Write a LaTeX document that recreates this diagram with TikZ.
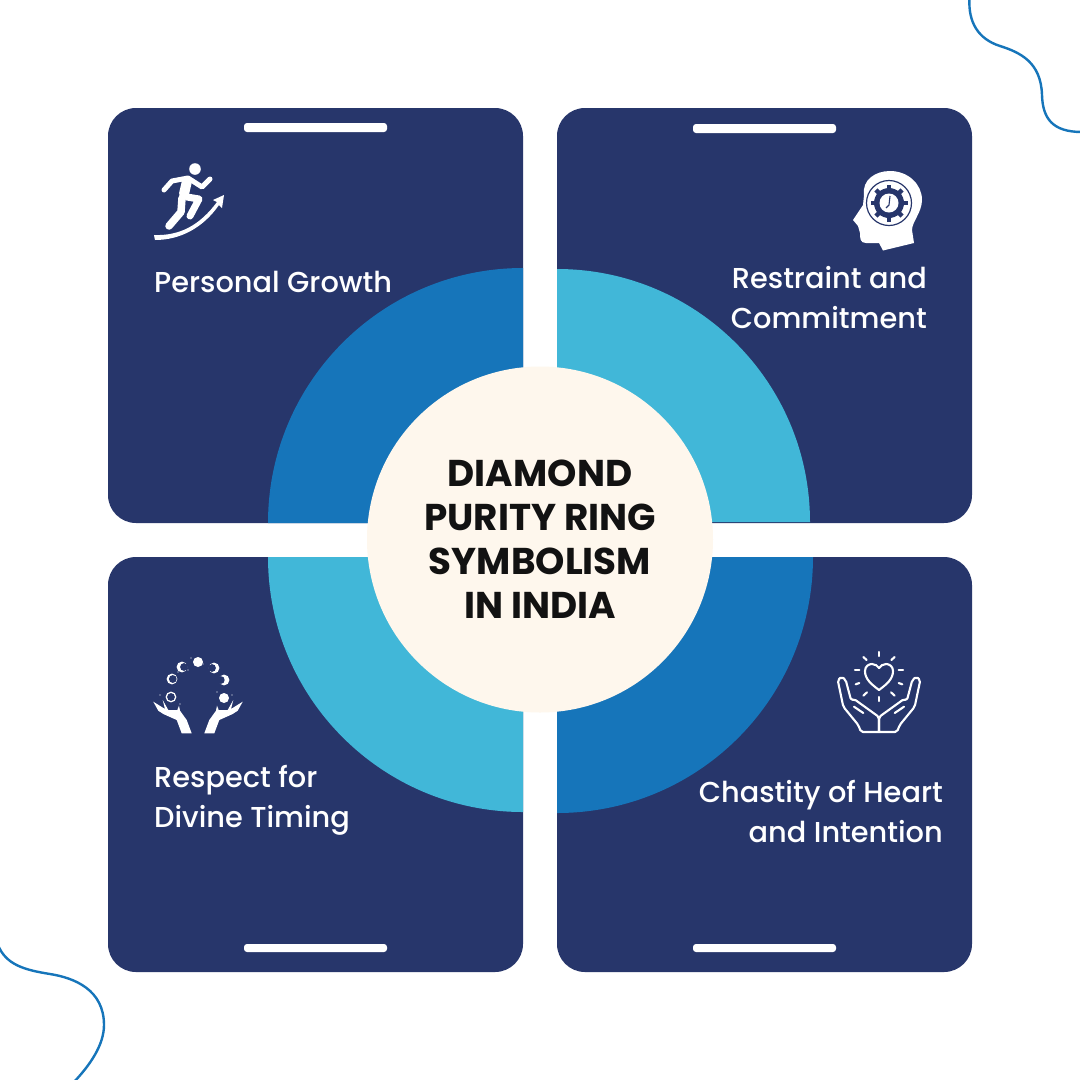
\documentclass[tikz,border=0pt]{standalone}
\usepackage{fontspec}
\setmainfont{Poppins Medium}[BoldFont=Poppins Bold]
\definecolor{navy}{HTML}{27366B}
\definecolor{ringblue}{HTML}{1675BA}
\definecolor{ringteal}{HTML}{41B7D8}
\definecolor{cream}{HTML}{FEF7ED}
\tikzset{
	card/.style={fill=navy,rounded corners=28pt},
	topbar/.style={fill=white,rounded corners=3pt},
	label/.style={text=white,inner sep=0pt,font=\fontsize{28.8}{40}\selectfont},
	wave/.style={draw=ringblue,line width=2.4pt},
	iconline/.style={draw=white,line width=2.1pt,line cap=round,line join=round}
}
\begin{document}
\begin{tikzpicture}[x=1pt,y=-1pt]
			\useasboundingbox (0,0) rectangle (1080,1080);
			\fill[white] (0,0) rectangle (1080,1080);
			\draw[wave] (969.5,-2) .. controls (968,22) and (978,39) .. (1000,46) .. controls (1020,52.4) and (1041,62) .. (1042,95) .. controls (1042.7,118) and (1052,132) .. (1082,132);
			\draw[wave] (-2,945) .. controls (6,965) and (25,970) .. (50,974) .. controls (75,978) and (104,990) .. (104,1025) .. controls (104,1045) and (90,1065) .. (74,1082);
			\fill[card] (108,108) rectangle (523,523);
			\fill[card] (557,108) rectangle (972,523);
			\fill[card] (108,557) rectangle (523,972);
			\fill[card] (557,557) rectangle (972,972);
			\fill[topbar] (244,123) rectangle (387,132);
			\fill[topbar] (693,124) rectangle (836,133);
			\fill[topbar] (244,944) rectangle (387,952);
			\fill[topbar] (693,944) rectangle (836,952);
			\fill[ringblue] (523,268) arc (270:180:255) -- (523,523) -- cycle;
			\fill[ringteal] (557,269) arc (270:360:253) -- (557,522) -- cycle;
			\fill[ringteal] (268,557) arc (180:90:255) -- (523,557) -- cycle;
			\fill[ringblue] (813,557) arc (0:90:256) -- (557,557) -- cycle;
			\node[circle,fill=cream,minimum size=346pt,inner sep=0pt,align=center,text=black!93,font=\fontsize{37.3}{44}\selectfont\bfseries] (title) at (540,539.5) {DIAMOND\\PURITY RING\\SYMBOLISM\\IN INDIA};
			\node[label,anchor=west] (growth) at (154,282) {Personal Growth};
			\node[label,anchor=east,align=right] (restraint) at (927,298) {Restraint and\\Commitment};
			\node[label,anchor=west,align=left] (respect) at (154,800) {Respect for\\Divine Timing};
			\node[label,anchor=east,align=right] (chastity) at (943,812) {Chastity of Heart\\and Intention};
			\fill[white] (195,169) circle[radius=5.8];
			\draw[iconline,line width=5pt] (164,190) -- (172,181) -- (188,178) -- (202,187) -- (210,179);
			\draw[iconline,line width=10pt] (187,181) -- (184,194);
			\draw[iconline,line width=7.5pt] (182,198) -- (181,212) -- (169,226);
			\draw[iconline,line width=7pt] (187,197) -- (199,199) -- (190,216);
			\fill[white] (154,235) .. controls (180,236) and (200,225) .. (217,202) -- (213,200) -- (224,195) -- (222,208) -- (219,205) .. controls (203,228) and (180,240) .. (155,240) -- cycle;
			\fill[white] (864,195) .. controls (862,180) and (875,171) .. (890,171) .. controls (908,171) and (922,184) .. (922,200) .. controls (922,212) and (912,222) .. (912,230) -- (914,243) -- (883,250.5) -- (879,243) -- (866,243) .. controls (860,243) and (860,238) .. (860,233) -- (858,226) -- (853,220) -- (863,205) -- cycle;
			\begin{scope}[shift={(889,203)}]
				\draw[navy,line width=1.2pt] (0,0) circle[radius=22.5];
				\fill[navy] (0,0) circle[radius=15];
				\foreach \a in {0,45,...,315}
					\draw[navy,line width=4.5pt] (\a:13) -- (\a:18.5);
				\fill[white] (0,0) circle[radius=9.5];
				\draw[navy,line width=1.1pt] (1,-7) -- (0,2) -- (-3,5);
			\end{scope}
			\foreach \mx/\my/\ox in {171/697/0,172/679/0.8,182/667/2,214/668/-2,224/680/-3.2}
			{
				\fill[white] (\mx,\my) circle[radius=5.4];
				\fill[navy] (\mx+\ox,\my) circle[radius=3.9];
			}
			\fill[white] (198,662) circle[radius=5];
			\fill[white] (224,698) circle[radius=5];
			\foreach \dx/\dy in {191/658,188/670,203/664,178/672,232/695,217/692,160/695,180/704}
				\fill[white] (\dx,\dy) circle[radius=0.7];
			\foreach \s in {1,-1}
				\fill[white,xshift=198pt,xscale=\s] (-16.3,733.3) -- (-6.3,733.3) -- (-11.3,720) -- (-18,710.7) -- (-19,705.7) -- (-20.7,710) -- (-29.7,710) -- (-35.3,700) -- (-33,709) -- (-44.7,701.7) -- (-39.7,710.7) -- (-34.7,714) -- (-21.3,720) -- cycle;
			\foreach \s in {1,-1}
			{
				\draw[iconline,xshift=879pt,xscale=\s] (0,690) .. controls (-8,684) and (-14,679) .. (-14,671) .. controls (-14,666) and (-10,664) .. (-7,664) .. controls (-4,664) and (-1,666) .. (0,668);
				\draw[iconline,xshift=879pt,xscale=\s,rounded corners=2pt] (0,732) -- (-18,732) -- (-20.7,725) -- (-35.7,706.7) -- (-41.3,680) -- (-37.3,676.7) -- (-33.3,680) -- (-28,700) -- (-25,699) -- (0,717) -- (0,732);
				\draw[iconline,xshift=879pt,xscale=\s] (-25,706.7) -- (-15.7,713);
				\draw[iconline,xshift=879pt,xscale=\s] (-15.7,657) -- (-12.3,660);
				\draw[iconline,xshift=879pt,xscale=\s] (-24,670.3) -- (-19.7,670.3);
				\draw[iconline,xshift=879pt,xscale=\s] (-23.3,684.3) -- (-19.7,683);
				\draw[iconline,xshift=879pt,xscale=\s] (-15.7,695.7) -- (-12,692.3);
			}
			\draw[iconline] (879,652) -- (879,656);
			\draw[iconline] (879,697) -- (879,701);
\end{tikzpicture}
\end{document}
